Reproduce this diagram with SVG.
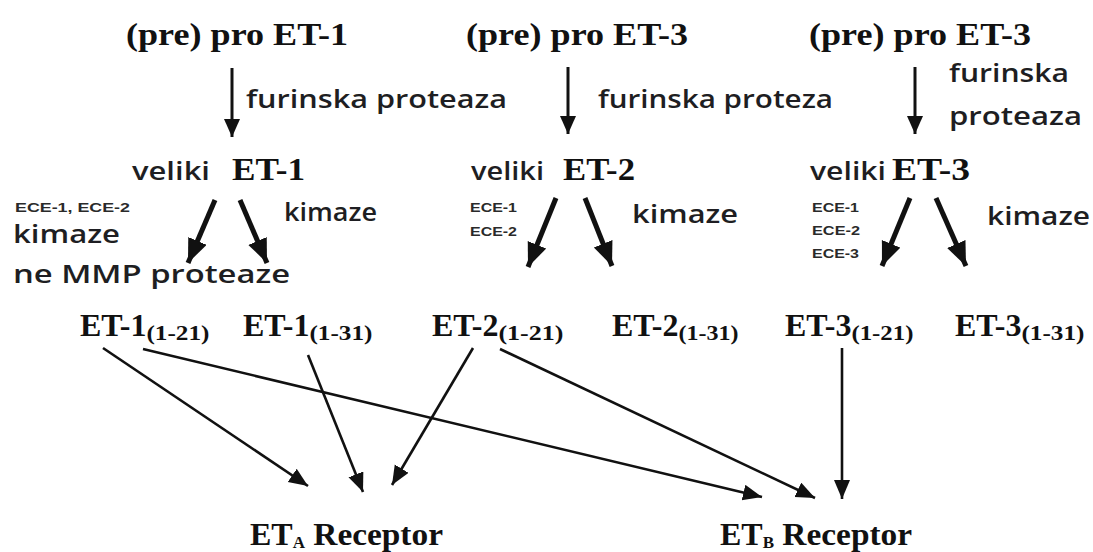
<svg xmlns="http://www.w3.org/2000/svg" width="1093" height="552" viewBox="0 0 1093 552">
<style>
.t{font-family:"Liberation Serif","Times New Roman",serif;font-weight:bold;fill:#111;}
.s{font-family:"Open Sans","Liberation Sans",sans-serif;font-weight:600;fill:#1e1e22;}
.e{font-family:"Liberation Sans",Arial,sans-serif;font-weight:bold;fill:#2a2a2a;font-size:13px;}
.a1{stroke:#111;stroke-width:3;fill:none;}
.a2{stroke:#111;stroke-width:5;fill:none;}
.a3{stroke:#111;stroke-width:2.6;fill:none;}
</style>
<defs>
<marker id="h1" markerUnits="userSpaceOnUse" markerWidth="20" markerHeight="20" refX="18" refY="8" orient="auto"><path d="M0,0 L18,8 L0,16 Z" fill="#111"/></marker>
<marker id="h2" markerUnits="userSpaceOnUse" markerWidth="26" markerHeight="26" refX="24" refY="10" orient="auto"><path d="M0,0 L24,10 L0,20 Z" fill="#111"/></marker>
<marker id="h3" markerUnits="userSpaceOnUse" markerWidth="22" markerHeight="20" refX="19" refY="8" orient="auto"><path d="M0,0 L19,8 L0,16 Z" fill="#111"/></marker>
</defs>
<rect width="1093" height="552" fill="#fff"/>

<g id="pro1"><text class="t" x="126" y="45" font-size="32" textLength="222" lengthAdjust="spacingAndGlyphs">(pre) pro ET-1</text></g>
<g id="pro2"><text class="t" x="466" y="45" font-size="32" textLength="222" lengthAdjust="spacingAndGlyphs">(pre) pro ET-3</text></g>
<g id="pro3"><text class="t" x="809" y="45" font-size="32" textLength="222" lengthAdjust="spacingAndGlyphs">(pre) pro ET-3</text></g>

<g id="lab-furin1"><text class="s" x="246" y="108" font-size="26" textLength="261" lengthAdjust="spacingAndGlyphs">furinska proteaza</text></g>
<g id="lab-furin2"><text class="s" x="598" y="108" font-size="26" textLength="235" lengthAdjust="spacingAndGlyphs">furinska proteza</text></g>
<g id="lab-furin3"><text class="s" x="949" y="82" font-size="26" textLength="120" lengthAdjust="spacingAndGlyphs">furinska</text><text class="s" x="949" y="125" font-size="26" textLength="133" lengthAdjust="spacingAndGlyphs">proteaza</text></g>

<g id="vel1"><text class="s" x="132" y="180" font-size="26" font-weight="bold" textLength="78" lengthAdjust="spacingAndGlyphs">veliki</text><text class="t" x="232" y="180" font-size="32" textLength="73" lengthAdjust="spacingAndGlyphs">ET-1</text></g>
<g id="vel2"><text class="s" x="471" y="180" font-size="26" font-weight="bold" textLength="73" lengthAdjust="spacingAndGlyphs">veliki</text><text class="t" x="563" y="180" font-size="32" textLength="72" lengthAdjust="spacingAndGlyphs">ET-2</text></g>
<g id="vel3"><text class="s" x="810" y="180" font-size="26" font-weight="bold" textLength="76" lengthAdjust="spacingAndGlyphs">veliki</text><text class="t" x="892" y="180" font-size="32" textLength="78" lengthAdjust="spacingAndGlyphs">ET-3</text></g>

<g id="lab-enz1">
<text class="e" x="15" y="212" textLength="115" lengthAdjust="spacingAndGlyphs">ECE-1, ECE-2</text>
<text class="s" x="13" y="243" font-size="26" textLength="107" lengthAdjust="spacingAndGlyphs">kimaze</text>
<text class="s" x="13" y="283" font-size="26" textLength="277" lengthAdjust="spacingAndGlyphs">ne MMP proteaze</text>
<text class="s" x="284" y="221" font-size="26" textLength="93" lengthAdjust="spacingAndGlyphs">kimaze</text>
</g>
<g id="lab-enz2">
<text class="e" x="470" y="212" textLength="47" lengthAdjust="spacingAndGlyphs">ECE-1</text>
<text class="e" x="470" y="236" textLength="47" lengthAdjust="spacingAndGlyphs">ECE-2</text>
<text class="s" x="632" y="223" font-size="26" textLength="106" lengthAdjust="spacingAndGlyphs">kimaze</text>
</g>
<g id="lab-enz3">
<text class="e" x="812" y="212" textLength="47" lengthAdjust="spacingAndGlyphs">ECE-1</text>
<text class="e" x="812" y="235" textLength="48" lengthAdjust="spacingAndGlyphs">ECE-2</text>
<text class="e" x="812" y="258" textLength="47" lengthAdjust="spacingAndGlyphs">ECE-3</text>
<text class="s" x="987" y="225" font-size="26" textLength="103" lengthAdjust="spacingAndGlyphs">kimaze</text>
</g>

<g id="et1-21"><text class="t" x="80" y="336" font-size="32">ET-1<tspan font-size="20" dy="4" textLength="63" lengthAdjust="spacingAndGlyphs">(1-21)</tspan></text></g>
<g id="et1-31"><text class="t" x="243" y="336" font-size="32">ET-1<tspan font-size="20" dy="4" textLength="63" lengthAdjust="spacingAndGlyphs">(1-31)</tspan></text></g>
<g id="et2-21"><text class="t" x="432" y="336" font-size="32">ET-2<tspan font-size="20" dy="4" textLength="65" lengthAdjust="spacingAndGlyphs">(1-21)</tspan></text></g>
<g id="et2-31"><text class="t" x="612" y="336" font-size="32">ET-2<tspan font-size="20" dy="4" textLength="60" lengthAdjust="spacingAndGlyphs">(1-31)</tspan></text></g>
<g id="et3-21"><text class="t" x="785" y="336" font-size="32">ET-3<tspan font-size="20" dy="4" textLength="62" lengthAdjust="spacingAndGlyphs">(1-21)</tspan></text></g>
<g id="et3-31"><text class="t" x="955" y="336" font-size="32">ET-3<tspan font-size="20" dy="4" textLength="63" lengthAdjust="spacingAndGlyphs">(1-31)</tspan></text></g>

<g id="eta"><text class="t" x="250" y="545" font-size="32">ET<tspan font-size="17" dy="3">A</tspan><tspan dy="-3" textLength="138" lengthAdjust="spacingAndGlyphs"> Receptor</tspan></text></g>
<g id="etb"><text class="t" x="720" y="545" font-size="32">ET<tspan font-size="17" dy="3">B</tspan><tspan dy="-3" textLength="138" lengthAdjust="spacingAndGlyphs"> Receptor</tspan></text></g>

<g id="connectors">
<line class="a1" x1="232" y1="68" x2="232" y2="137" marker-end="url(#h1)"/>
<line class="a1" x1="568" y1="67" x2="568" y2="134" marker-end="url(#h1)"/>
<line class="a1" x1="915" y1="67" x2="915" y2="134" marker-end="url(#h1)"/>

<line class="a2" x1="215" y1="200" x2="188" y2="263" marker-end="url(#h2)"/>
<line class="a2" x1="240" y1="200" x2="267" y2="263" marker-end="url(#h2)"/>
<line class="a2" x1="556" y1="198" x2="528" y2="267" marker-end="url(#h2)"/>
<line class="a2" x1="585" y1="198" x2="612" y2="266" marker-end="url(#h2)"/>
<line class="a2" x1="910" y1="198" x2="882" y2="266" marker-end="url(#h2)"/>
<line class="a2" x1="936" y1="198" x2="966" y2="266" marker-end="url(#h2)"/>

<line class="a3" x1="103" y1="348" x2="308" y2="486" marker-end="url(#h3)"/>
<line class="a3" x1="143" y1="349" x2="762" y2="497" marker-end="url(#h3)"/>
<line class="a3" x1="308" y1="355" x2="363" y2="492" marker-end="url(#h3)"/>
<line class="a3" x1="473" y1="348" x2="392" y2="485" marker-end="url(#h3)"/>
<line class="a3" x1="500" y1="349" x2="815" y2="498" marker-end="url(#h3)"/>
<line class="a3" x1="842" y1="348" x2="842" y2="499" marker-end="url(#h3)"/>
</g>
</svg>
